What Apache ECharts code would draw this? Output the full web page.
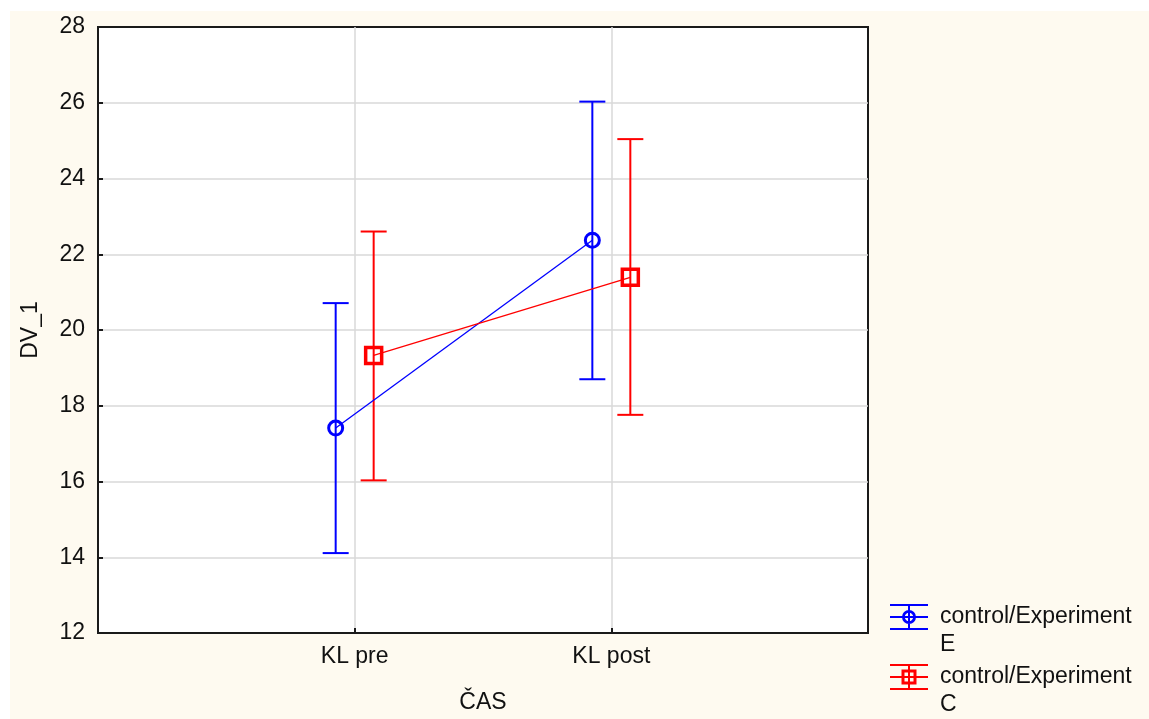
<!DOCTYPE html>
<html>
<head>
<meta charset="utf-8">
<title>DV_1 by ČAS</title>
<script src="https://cdn.jsdelivr.net/npm/echarts@6/dist/echarts.min.js"></script>
<style>
  html, body { margin: 0; padding: 0; background: #ffffff; }
  #chart { width: 1149px; height: 719px; }
</style>
</head>
<body>
<div id="chart"></div>
<script>
// Time points on the horizontal axis
const categories = ['KL pre', 'KL post'];

// Vertical axis range and step
const yMin = 12;
const yMax = 28;
const yStep = 2;

// Group E: means and confidence limits per time point
const expName = 'control/Experiment\nE';
const expMean = [17.41, 22.37];
const expLow = [14.11, 18.70];
const expHigh = [20.71, 26.03];

// Group C: means and confidence limits per time point
const ctrlName = 'control/Experiment\nC';
const ctrlMean = [19.33, 21.39];
const ctrlLow = [16.03, 17.76];
const ctrlHigh = [22.60, 25.04];

const BLUE = '#0000ff';
const RED = '#ff0000';
const FONT = 'Liberation Sans, Arial, sans-serif';
const FS = 23;
const TEXT = '#111111';

// Groups are drawn side by side around each time point
const dodge = 0.074;

function points(mean, shift) {
  return mean.map((m, i) => [i + 1 + shift, m]);
}
function bars(low, high, shift) {
  return low.map((l, i) => [i + 1 + shift, l, high[i]]);
}

// Whisker drawn as a vertical line with two caps
function errorBar(color) {
  return function (params, api) {
    const x = api.value(0);
    const lo = api.coord([x, api.value(1)]);
    const hi = api.coord([x, api.value(2)]);
    const half = 13;
    const style = { stroke: color, lineWidth: 2, fill: null };
    return {
      type: 'group',
      children: [
        { type: 'line', shape: { x1: lo[0], y1: lo[1], x2: hi[0], y2: hi[1] }, style },
        { type: 'line', shape: { x1: hi[0] - half, y1: hi[1], x2: hi[0] + half, y2: hi[1] }, style },
        { type: 'line', shape: { x1: lo[0] - half, y1: lo[1], x2: lo[0] + half, y2: lo[1] }, style }
      ]
    };
  };
}

// Legend glyphs: caps, centre line, whisker and the group marker
const iconBase = 'M0,2h38v2h-38z M0,14h38v2h-38z M0,26h38v2h-38z M18,2h2v26h-2z M0,55.9h0.1v0.1h-0.1z';
const circleIcon = 'path://' + iconBase +
  ' M12,15 A7,7 0 1,1 26,15 A7,7 0 1,1 12,15 Z M14.8,15 A4.2,4.2 0 1,0 23.2,15 A4.2,4.2 0 1,0 14.8,15 Z';
const squareIcon = 'path://' + iconBase +
  ' M11.5,7.5h15v15h-15z M14.5,10.5v9h9v-9z';

const chart = echarts.init(document.getElementById('chart'), null, { renderer: 'canvas' });

chart.setOption({
  animation: false,
  backgroundColor: '#ffffff',
  textStyle: { fontFamily: FONT },
  graphic: [{
    type: 'rect',
    z: -100,
    silent: true,
    shape: { x: 10, y: 11, width: 1139, height: 708 },
    style: { fill: '#fefaf0' }
  }],
  grid: {
    left: 98,
    top: 27,
    right: 281,
    bottom: 86,
    show: true,
    backgroundColor: '#ffffff',
    borderColor: '#1a1a1a',
    borderWidth: 2
  },
  legend: {
    orient: 'vertical',
    left: 890,
    top: 603,
    padding: 0,
    itemGap: 4,
    itemWidth: 38,
    itemHeight: 56,
    selectedMode: false,
    textStyle: {
      fontFamily: FONT,
      fontSize: FS,
      color: TEXT,
      lineHeight: 28,
      padding: [0, 0, 0, 7]
    },
    data: [
      { name: expName, icon: circleIcon, itemStyle: { color: BLUE, borderWidth: 0 } },
      { name: ctrlName, icon: squareIcon, itemStyle: { color: RED, borderWidth: 0 } }
    ]
  },
  xAxis: {
    type: 'value',
    min: 0,
    max: categories.length + 1,
    interval: 1,
    name: 'ČAS',
    nameLocation: 'middle',
    nameGap: 58,
    nameTextStyle: { fontFamily: FONT, fontSize: FS, color: TEXT },
    axisLine: { show: false },
    axisTick: { show: true, inside: true, length: 5, lineStyle: { color: '#1a1a1a', width: 2 } },
    axisLabel: {
      fontFamily: FONT,
      fontSize: FS,
      color: TEXT,
      margin: 12,
      formatter: v => categories[v - 1] || ''
    },
    splitLine: {
      show: true,
      showMinLine: false,
      showMaxLine: false,
      lineStyle: { color: '#d9d9d9', width: 1.5 }
    }
  },
  yAxis: {
    type: 'value',
    min: yMin,
    max: yMax,
    interval: yStep,
    name: 'DV_1',
    nameLocation: 'middle',
    nameGap: 56,
    nameTextStyle: { fontFamily: FONT, fontSize: FS, color: TEXT },
    axisLine: { show: false },
    axisTick: { show: true, inside: true, length: 5, lineStyle: { color: '#1a1a1a', width: 2 } },
    axisLabel: { fontFamily: FONT, fontSize: FS, color: TEXT, margin: 13 },
    splitLine: {
      show: true,
      showMinLine: false,
      showMaxLine: false,
      lineStyle: { color: '#d9d9d9', width: 1.5 }
    }
  },
  series: [
    {
      name: expName,
      type: 'custom',
      renderItem: errorBar(BLUE),
      itemStyle: { color: BLUE },
      encode: { x: 0, y: [1, 2] },
      data: bars(expLow, expHigh, -dodge),
      z: 2
    },
    {
      name: ctrlName,
      type: 'custom',
      renderItem: errorBar(RED),
      itemStyle: { color: RED },
      encode: { x: 0, y: [1, 2] },
      data: bars(ctrlLow, ctrlHigh, dodge),
      z: 2
    },
    {
      name: expName,
      type: 'line',
      data: points(expMean, -dodge),
      symbol: 'circle',
      symbolSize: 14,
      showAllSymbol: true,
      lineStyle: { color: BLUE, width: 1.3 },
      itemStyle: { color: 'rgba(0,0,0,0)', borderColor: BLUE, borderWidth: 3 },
      z: 3
    },
    {
      name: ctrlName,
      type: 'line',
      data: points(ctrlMean, dodge),
      symbol: 'rect',
      symbolSize: 16,
      showAllSymbol: true,
      lineStyle: { color: RED, width: 1.3 },
      itemStyle: { color: 'rgba(0,0,0,0)', borderColor: RED, borderWidth: 3.5 },
      z: 3
    }
  ]
});
</script>
</body>
</html>
